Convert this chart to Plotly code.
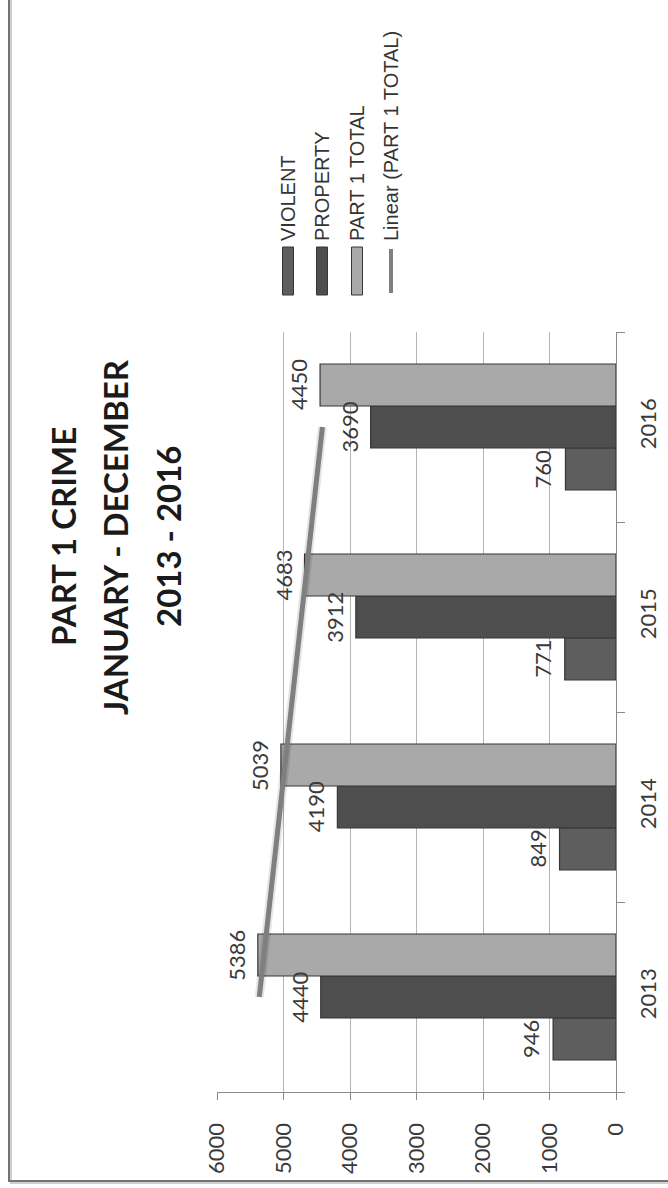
import numpy as np
import plotly.graph_objects as go

# ---- data ----
years = ["2013", "2014", "2015", "2016"]
violent = [946, 849, 771, 760]
prop = [4440, 4190, 3912, 3690]
total = [5386, 5039, 4683, 4450]
value_ticks = [0, 1000, 2000, 3000, 4000, 5000, 6000]
series_names = ["VIOLENT", "PROPERTY", "PART 1 TOTAL"]
trend_name = "Linear (PART 1 TOTAL)"
title_lines = ["PART 1 CRIME", "JANUARY - DECEMBER", "2013 - 2016"]

# ---- styling ----
W, H = 668, 1188
L, R, T, B = 217, 616, 332, 1092          # plot area in pixels
BARGAP = 0.337
bar_colors = ["#5e5e5e", "#4e4e4e", "#a9a9a9"]
edge_color = "#363636"
trend_color = "#7f7f7f"
text_color = "#3a3a3a"
num_font = "Lato"


def px_x(p):
    return (p - L) / (R - L)


def px_y(p):
    return (B - p) / (B - T)


fig = go.Figure()

series = [violent, prop, total]
for name, vals, col in zip(series_names, series, bar_colors):
    fig.add_trace(go.Bar(
        y=years, x=vals, orientation="h", name=name,
        marker=dict(color=col, line=dict(color=edge_color, width=1.2)),
        showlegend=False,
    ))

# linear trend of the total series across the four years
idx = np.arange(1, len(years) + 1)
slope, icpt = np.polyfit(idx, total, 1)
trend = slope * idx + icpt
fig.add_trace(go.Scatter(
    y=[years[0], years[-1]], x=[trend[0], trend[-1]], mode="lines",
    line=dict(color="rgba(0,0,0,0.10)", width=9), showlegend=False,
    hoverinfo="skip",
))
fig.add_trace(go.Scatter(
    y=[years[0], years[-1]], x=[trend[0], trend[-1]], mode="lines",
    line=dict(color=trend_color, width=5), name=trend_name, showlegend=False,
))

annotations = []

# value labels beyond each bar end
bar_w = (1 - BARGAP) / len(series)
for k, vals in enumerate(series):
    off = (k - (len(series) - 1) / 2) * bar_w
    for i, v in enumerate(vals):
        annotations.append(dict(
            x=v, y=i + off, xref="x", yref="y", text=str(v),
            textangle=-90, showarrow=False, xanchor="center", yanchor="middle",
            xshift=-22, font=dict(family=num_font, size=22, color=text_color),
        ))

# rotated title
for cx, line in zip([63, 115, 168], title_lines):
    annotations.append(dict(
        x=px_x(cx), y=px_y(537), xref="paper", yref="paper", text=line,
        textangle=-90, showarrow=False, xanchor="center", yanchor="middle",
        font=dict(family="Lato", size=33, color="#1a1a1a", weight=700),
    ))

# rotated legend
shapes = []
legend_x = [288, 322, 357, 391]
for k, name in enumerate(series_names):
    cx = legend_x[k]
    shapes.append(dict(
        type="rect", xref="paper", yref="paper",
        x0=px_x(cx - 5.5), x1=px_x(cx + 5.5), y0=px_y(295), y1=px_y(247),
        fillcolor=bar_colors[k], line=dict(color=edge_color, width=1),
    ))
shapes.append(dict(
    type="line", xref="paper", yref="paper",
    x0=px_x(legend_x[3]), x1=px_x(legend_x[3]), y0=px_y(293), y1=px_y(249),
    line=dict(color=trend_color, width=4),
))
for cx, name in zip(legend_x, series_names + [trend_name]):
    annotations.append(dict(
        x=px_x(cx), y=px_y(243), xref="paper", yref="paper", text=name,
        textangle=-90, showarrow=False, xanchor="center", yanchor="bottom",
        font=dict(family="Liberation Sans", size=20, color="#333333"),
    ))

# outer frame with a soft shadow
shapes.append(dict(
    type="rect", xref="paper", yref="paper",
    x0=px_x(11), x1=px_x(W + 40), y0=px_y(1183), y1=px_y(-40),
    line=dict(color="#cfcfcf", width=2), fillcolor="rgba(0,0,0,0)", layer="below",
))
shapes.append(dict(
    type="rect", xref="paper", yref="paper",
    x0=px_x(9), x1=px_x(W + 40), y0=px_y(1181), y1=px_y(-40),
    line=dict(color="#737373", width=2), fillcolor="rgba(0,0,0,0)", layer="below",
))

fig.update_layout(
    width=W, height=H,
    margin=dict(l=L, r=W - R, t=T, b=H - B, pad=0, autoexpand=False),
    paper_bgcolor="white", plot_bgcolor="white",
    barmode="group", bargap=BARGAP, bargroupgap=0,
    showlegend=False,
    annotations=annotations, shapes=shapes,
    xaxis=dict(
        range=[6000, 0], tickvals=value_ticks,
        ticktext=[str(v) for v in value_ticks], automargin=False,
        tickangle=-90, ticks="outside", ticklen=7, tickcolor="#8a8a8a",
        showgrid=True, gridcolor="#b5b5b5", gridwidth=1.3,
        showline=True, linecolor="#8a8a8a", linewidth=1.3,
        zeroline=False, ticklabelstandoff=14,
        tickfont=dict(family=num_font, size=22, color=text_color),
    ),
    yaxis=dict(
        side="right", categoryorder="array", categoryarray=years,
        automargin=False,
        tickangle=-90, ticks="outside", ticklen=8, tickcolor="#8a8a8a",
        tickson="boundaries", showgrid=False,
        showline=True, linecolor="#8a8a8a", linewidth=1.3,
        zeroline=False, ticklabelstandoff=12,
        tickfont=dict(family=num_font, size=22, color=text_color),
    ),
)

fig.write_html("out.html")
